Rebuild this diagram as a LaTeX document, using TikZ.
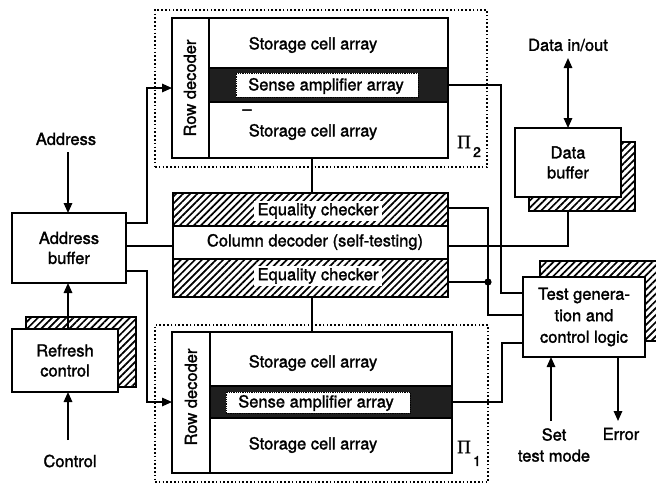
\documentclass[tikz,border=0pt]{standalone}
\usepackage{fontspec}
\setmainfont{TeX Gyre Heros}[FakeBold=1.6]
\newfontfamily\pifont{Liberation Serif}[FakeBold=1.2]
\usetikzlibrary{patterns.meta,arrows.meta,calc}
\begin{document}
\begin{tikzpicture}[x=1pt,y=-1pt,
  cell/.style={draw,line width=2.4pt,inner sep=0pt,outer sep=0pt},
  txt/.style={font=\fontsize{16.5}{20}\selectfont,align=center,inner sep=0pt},
  wire/.style={line width=1.6pt},
  tipA/.tip={Triangle[length=10pt,width=8.5pt]},
  arr/.style={wire,-tipA},
  hatch/.style={pattern={Lines[angle=45,distance=5pt,line width=1.7pt]}},
  dotbox/.style={draw,line width=1.3pt,dash pattern=on 1.6pt off 2.2pt},
  dark/.style={fill=black!88},
]
\useasboundingbox (0,0) rectangle (656,483);
\clip (0,0) rectangle (656,483);

% ---------- top memory block (Pi 2)
\node[dotbox,minimum width=332pt,minimum height=157pt,inner sep=0pt] (pi2box) at (321,88.5) {};
\node[cell,minimum width=37pt,minimum height=140pt] (toprd) at (190.5,88) {};
\node[txt,rotate=90] (toprdt) at (190,88) {Row decoder};
\node[cell,minimum width=239pt,minimum height=50pt] (topst1) at (328.5,43) {};
\node[cell,dark,minimum width=239pt,minimum height=34pt] (topsa) at (328.5,85) {};
\node[cell,minimum width=239pt,minimum height=56pt] (topst2) at (328.5,130) {};
\node[draw,line width=0.8pt,densely dotted,fill=white,minimum width=182pt,minimum height=24pt,inner sep=0pt] (topsal) at (327,85) {};
\node[txt] (topsat) at (326,86) {Sense amplifier array};
\node[txt] (topst1t) at (313,45) {Storage cell array};
\node[txt] (topst2t) at (313,132) {Storage cell array};
\node[txt] (dash) at (247,112) {–};
\node[cell,minimum width=276pt,minimum height=140pt,fill=none] (topblk) at (310,88) {};
\node[inner sep=0pt,font=\pifont\fontsize{19}{19}\selectfont] (pi2) at (464,142) {Π};
\node[inner sep=0pt,font=\fontsize{14}{14}\selectfont] (pi2s) at (477,152) {2};

% ---------- middle block
\node[cell,hatch,minimum width=275pt,minimum height=33pt] (eq1) at (310.5,209.5) {};
\node[cell,minimum width=275pt,minimum height=33pt] (cdec) at (310.5,242.5) {};
\node[cell,hatch,minimum width=275pt,minimum height=38pt] (eq2) at (310.5,278) {};
\node[txt,fill=white,inner xsep=4pt,inner ysep=2.5pt] (eq1t) at (318,211) {Equality checker};
\node[txt] (cdect) at (315,242) {Column decoder (self-testing)};
\node[txt,fill=white,inner xsep=4pt,inner ysep=2.5pt] (eq2t) at (318,276) {Equality checker};
\node[cell,minimum width=275pt,minimum height=104pt,fill=none] (midblk) at (310.5,245) {};

% ---------- bottom memory block (Pi 1)
\node[dotbox,minimum width=333pt,minimum height=157pt,inner sep=0pt] (pi1box) at (321.5,403.5) {};
\node[cell,minimum width=38pt,minimum height=141pt] (botrd) at (191,402.5) {};
\node[txt,rotate=90] (botrdt) at (191,397) {Row decoder};
\node[cell,minimum width=242pt,minimum height=54pt] (botst1) at (331,359) {};
\node[cell,dark,minimum width=242pt,minimum height=32pt] (botsa) at (331,402) {};
\node[cell,minimum width=242pt,minimum height=55pt] (botst2) at (331,445.5) {};
\node[draw,line width=0.8pt,densely dotted,fill=white,minimum width=184pt,minimum height=21pt,inner sep=0pt] (botsal) at (318,402.5) {};
\node[txt] (botsat) at (316,403) {Sense amplifier array};
\node[txt] (botst1t) at (313,363) {Storage cell array};
\node[txt] (botst2t) at (313,445) {Storage cell array};
\node[cell,minimum width=280pt,minimum height=141pt,fill=none] (botblk) at (312,402.5) {};
\node[inner sep=0pt,font=\pifont\fontsize{19}{19}\selectfont] (pi1) at (464,447) {Π};
\node[inner sep=0pt,font=\fontsize{14}{14}\selectfont] (pi1s) at (477,461) {1};

% ---------- left side
\node[txt] (addrlbl) at (66,139) {Address};
\node[cell,fill=white,minimum width=114pt,minimum height=70pt,txt] (addr) at (69,248) {Address\\buffer};
\node[cell,hatch,minimum width=110pt,minimum height=70pt] (rshadow) at (81,352) {};
\node[cell,fill=white,minimum width=106pt,minimum height=63pt,txt] (refresh) at (65,360.5) {Refresh\\control};
\node[txt] (ctrllbl) at (70,461) {Control};

% ---------- right side
\node[txt] (dlbl) at (568,45) {Data in/out};
\node[cell,hatch,minimum width=106pt,minimum height=69pt] (dshadow) at (582,176.5) {};
\node[cell,fill=white,minimum width=106pt,minimum height=69pt,txt] (dbuf) at (568,162.5) {Data\\buffer};
\node[cell,hatch,minimum width=126pt,minimum height=80pt] (tshadow) at (603,301) {};
\node[cell,fill=white,minimum width=122pt,minimum height=80pt,txt,font=\fontsize{16.5}{21.5}\selectfont] (test) at (584,317) {Test genera-\\tion and\\control logic};
\node[txt,font=\fontsize{16.5}{21}\selectfont] (setlbl) at (554,445) {Set\\test mode};
\node[txt] (errlbl) at (621,434) {Error};

% ---------- connectors
\coordinate (addrin) at (68,152);
\coordinate (ctrlin) at (68,440);
\coordinate (datain) at (568,58);
\coordinate (setin) at (551,421);
\coordinate (errout) at (618,421);
\coordinate (dbot) at (dshadow.south -| dbuf.north);

\draw[arr] (addrin) -- (addr.north -| addrin);
\draw[arr] (refresh.north -| addrin) -- (addr.south -| addrin);
\draw[arr] (ctrlin) -- (refresh.south -| ctrlin);

\draw[arr] (addr.east |- 0,223) -| (147,88) -- (toprd.west |- 0,88);
\draw[wire] (addr.east |- 0,246) -- (cdec.west |- 0,246);
\draw[arr] (addr.east |- 0,271) -| (147,402) -- (botrd.west |- 0,402);

\draw[wire] (topblk.south -| 312,0) -- (eq1.north -| 312,0);
\draw[wire] (eq2.south -| 312,0) -- (botblk.north -| 312,0);

\draw[wire] (topsa.east) -| (501,293) -- (test.west |- 0,293);
\draw[wire] (eq1.east |- 0,208) -| (488,315) -- (test.west |- 0,315);
\draw[wire] (eq2.east |- 0,282) -- (488,282);
\fill (488,282) circle (3.6pt);
\draw[wire] (cdec.east |- 0,246) -| (dbot);
\draw[wire] (botsa.east) -| (502,343) -- (test.west |- 0,343);

\draw[wire,tipA-tipA] (datain) -- (dbuf.north);
\draw[arr] (setin) -- (setin |- test.south);
\draw[arr] (test.south -| errout) -- (errout);
\end{tikzpicture}
\end{document}
